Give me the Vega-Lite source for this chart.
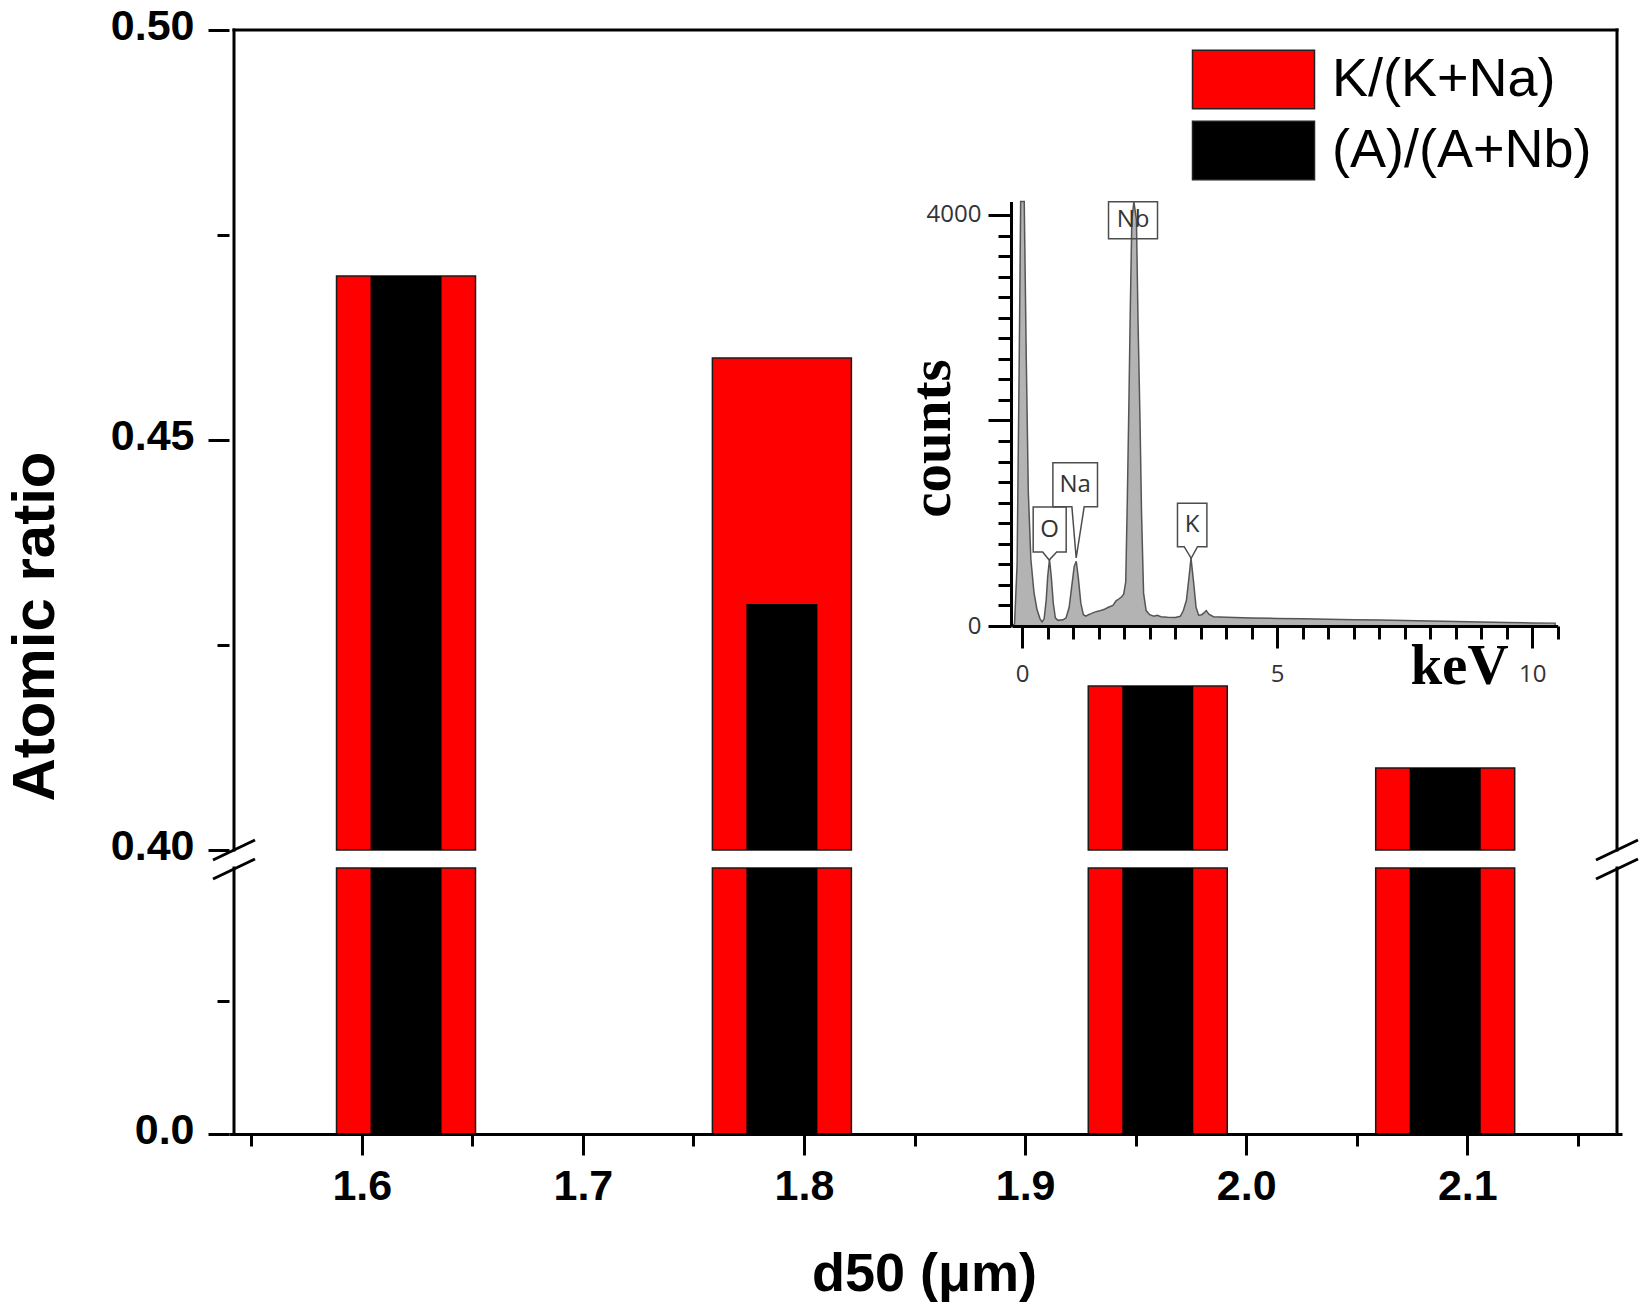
{
  "$schema": "https://vega.github.io/schema/vega-lite/v6.json",
  "description": "Atomic ratio against d50 with a broken y axis, and an inset EDS spectrum",
  "width": 1393,
  "height": 1104,
  "autosize": {"type": "none"},
  "padding": {"left": 229, "top": 30, "right": 28, "bottom": 173},
  "background": "white",
  "config": {"view": {"stroke": null}},
  "datasets": {
    "bars": [
      {"d50": 1.62, "series": "K/(K+Na)", "ratio": 0.470},
      {"d50": 1.79, "series": "K/(K+Na)", "ratio": 0.460},
      {"d50": 1.96, "series": "K/(K+Na)", "ratio": 0.420},
      {"d50": 2.09, "series": "K/(K+Na)", "ratio": 0.410},
      {"d50": 1.62, "series": "(A)/(A+Nb)", "ratio": 0.470},
      {"d50": 1.79, "series": "(A)/(A+Nb)", "ratio": 0.430},
      {"d50": 1.96, "series": "(A)/(A+Nb)", "ratio": 0.420},
      {"d50": 2.09, "series": "(A)/(A+Nb)", "ratio": 0.410}
    ],
    "spectrum": [
      {"energy": -0.2, "counts": 0}, {"energy": -0.15, "counts": 20}, {"energy": -0.1, "counts": 600},
      {"energy": -0.06, "counts": 2500}, {"energy": -0.03, "counts": 5500}, {"energy": 0.04, "counts": 5500},
      {"energy": 0.08, "counts": 2600}, {"energy": 0.12, "counts": 1300}, {"energy": 0.17, "counts": 650},
      {"energy": 0.23, "counts": 330}, {"energy": 0.29, "counts": 160}, {"energy": 0.35, "counts": 70},
      {"energy": 0.39, "counts": 40}, {"energy": 0.43, "counts": 70}, {"energy": 0.47, "counts": 250},
      {"energy": 0.5, "counts": 480}, {"energy": 0.535, "counts": 650}, {"energy": 0.57, "counts": 480},
      {"energy": 0.61, "counts": 220}, {"energy": 0.65, "counts": 80}, {"energy": 0.7, "counts": 55},
      {"energy": 0.8, "counts": 60}, {"energy": 0.86, "counts": 80}, {"energy": 0.92, "counts": 180},
      {"energy": 0.97, "counts": 380}, {"energy": 1.02, "counts": 580}, {"energy": 1.06, "counts": 630},
      {"energy": 1.1, "counts": 470}, {"energy": 1.15, "counts": 220}, {"energy": 1.2, "counts": 110},
      {"energy": 1.25, "counts": 95}, {"energy": 1.3, "counts": 110}, {"energy": 1.35, "counts": 120},
      {"energy": 1.42, "counts": 135}, {"energy": 1.5, "counts": 145}, {"energy": 1.6, "counts": 160},
      {"energy": 1.7, "counts": 185}, {"energy": 1.78, "counts": 200}, {"energy": 1.84, "counts": 245},
      {"energy": 1.9, "counts": 265}, {"energy": 1.95, "counts": 285}, {"energy": 1.99, "counts": 310},
      {"energy": 2.03, "counts": 430}, {"energy": 2.06, "counts": 1200}, {"energy": 2.09, "counts": 2100},
      {"energy": 2.12, "counts": 3100}, {"energy": 2.15, "counts": 3950}, {"energy": 2.19, "counts": 4500},
      {"energy": 2.24, "counts": 3950}, {"energy": 2.27, "counts": 3000}, {"energy": 2.31, "counts": 2000},
      {"energy": 2.34, "counts": 1100}, {"energy": 2.38, "counts": 320}, {"energy": 2.43, "counts": 150},
      {"energy": 2.5, "counts": 110}, {"energy": 2.58, "counts": 95}, {"energy": 2.65, "counts": 105},
      {"energy": 2.72, "counts": 90}, {"energy": 2.85, "counts": 85}, {"energy": 3.0, "counts": 82},
      {"energy": 3.1, "counts": 95}, {"energy": 3.16, "counts": 150}, {"energy": 3.22, "counts": 250},
      {"energy": 3.27, "counts": 470}, {"energy": 3.31, "counts": 660}, {"energy": 3.36, "counts": 430},
      {"energy": 3.41, "counts": 180}, {"energy": 3.46, "counts": 105}, {"energy": 3.52, "counts": 110},
      {"energy": 3.57, "counts": 130}, {"energy": 3.61, "counts": 150}, {"energy": 3.66, "counts": 115},
      {"energy": 3.75, "counts": 90}, {"energy": 4.0, "counts": 85}, {"energy": 4.5, "counts": 78},
      {"energy": 5.0, "counts": 74}, {"energy": 5.5, "counts": 70}, {"energy": 6.0, "counts": 66},
      {"energy": 6.5, "counts": 62}, {"energy": 7.0, "counts": 58}, {"energy": 7.5, "counts": 53},
      {"energy": 8.0, "counts": 48}, {"energy": 8.5, "counts": 43}, {"energy": 9.0, "counts": 38},
      {"energy": 9.5, "counts": 34}, {"energy": 10.0, "counts": 30}, {"energy": 10.45, "counts": 28}
    ],
    "peaks": [
      {"el": "O", "energy": 0.539, "counts": 939},
      {"el": "Na", "energy": 1.039, "counts": 1375},
      {"el": "Nb", "energy": 2.173, "counts": 3948},
      {"el": "K", "energy": 3.333, "counts": 983}
    ]
  },
  "layer": [
    {
      "layer": [
        {
          "data": {"name": "bars"},
          "encoding": {
            "x": {
              "field": "d50",
              "type": "quantitative",
              "scale": {"domain": [1.5422, 2.1677], "nice": false, "zero": false},
              "axis": {
                "values": [1.55, 1.6, 1.65, 1.7, 1.75, 1.8, 1.85, 1.9, 1.95, 2.0, 2.05, 2.1, 2.15],
                "labelExpr": "abs(datum.value * 10 - round(datum.value * 10)) > 0.25 ? '' : format(datum.value, '.1f')",
                "tickSize": {"condition": {"test": "abs(datum.value * 10 - round(datum.value * 10)) > 0.25", "value": 12}, "value": 21},
                "tickWidth": 3,
                "tickColor": "black",
                "domainWidth": 3,
                "domainColor": "black",
                "labelFont": "Liberation Sans",
                "labelFontWeight": "bold",
                "labelFontSize": 43,
                "labelColor": "black",
                "labelPadding": 10,
                "labelFlush": false,
                "labelOverlap": false,
                "grid": false,
                "zindex": 1,
                "title": "d50 (μm)",
                "titleFont": "Liberation Sans",
                "titleFontWeight": "bold",
                "titleFontSize": 54,
                "titleColor": "black",
                "titleX": 695,
                "titleY": 156,
                "titleAlign": "center",
                "titleBaseline": "alphabetic"
              }
            },
            "color": {
              "field": "series",
              "type": "nominal",
              "scale": {"domain": ["K/(K+Na)", "(A)/(A+Nb)"], "range": ["#ff0000", "#000000"]},
              "legend": {
                "orient": "none",
                "legendX": 993,
                "legendY": 18,
                "title": null,
                "padding": 0,
                "offset": 0,
                "symbolType": "M-2,-0.96H2V0.96H-2Z",
                "symbolSize": 3721,
                "symbolStrokeColor": "#222222",
                "symbolStrokeWidth": 1.5,
                "symbolOpacity": 1,
                "labelFont": "Liberation Sans",
                "labelFontSize": 54,
                "labelColor": "black",
                "labelOffset": 47,
                "labelLimit": 0,
                "rowPadding": 6
              }
            }
          },
          "layer": [
            {
              "transform": [{"filter": "datum.series === 'K/(K+Na)'"}],
              "mark": {"type": "bar", "size": 139, "stroke": "#1a1a1a", "strokeWidth": 1.5},
              "encoding": {
                "y": {
                  "field": "ratio",
                  "type": "quantitative",
                  "stack": null,
                  "scale": {"domain": [0, 0.39, 0.4, 0.5], "range": [1104, 838, 820, 0], "nice": false, "zero": false},
                  "axis": {
                    "values": [0, 0.195, 0.4, 0.425, 0.45, 0.475, 0.5],
                    "labelExpr": "datum.value == 0 ? '0.0' : (datum.value == 0.4 || datum.value == 0.45 || datum.value == 0.5 ? format(datum.value, '.2f') : '')",
                    "tickSize": {"condition": {"test": "datum.value == 0.195 || datum.value == 0.425 || datum.value == 0.475", "value": 12}, "value": 21},
                    "tickWidth": 3,
                    "tickColor": "black",
                    "domain": false,
                    "labelFont": "Liberation Sans",
                    "labelFontWeight": "bold",
                    "labelFontSize": 43,
                    "labelColor": "black",
                    "labelPadding": 14,
                    "labelBaseline": "middle",
                    "labelOffset": -4,
                    "labelFlush": false,
                    "labelOverlap": false,
                    "grid": false,
                    "zindex": 1,
                    "title": "Atomic ratio",
                    "titleFont": "Liberation Sans",
                    "titleFontWeight": "bold",
                    "titleFontSize": 60,
                    "titleColor": "black",
                    "titleAngle": 270,
                    "titleX": -176,
                    "titleY": 596,
                    "titleAlign": "center",
                    "titleBaseline": "alphabetic"
                  }
                },
                "y2": {"datum": 0.4}
              }
            },
            {
              "transform": [{"filter": "datum.series === 'K/(K+Na)'"}],
              "mark": {"type": "bar", "size": 139, "stroke": "#1a1a1a", "strokeWidth": 1.5},
              "encoding": {"y": {"datum": 0}, "y2": {"datum": 0.39}}
            },
            {
              "transform": [{"filter": "datum.series === '(A)/(A+Nb)'"}],
              "mark": {"type": "bar", "size": 71},
              "encoding": {"y": {"field": "ratio", "type": "quantitative", "stack": null}, "y2": {"datum": 0.4}}
            },
            {
              "transform": [{"filter": "datum.series === '(A)/(A+Nb)'"}],
              "mark": {"type": "bar", "size": 71},
              "encoding": {"y": {"datum": 0}, "y2": {"datum": 0.39}}
            }
          ]
        },
        {
          "data": {"values": [{}]},
          "mark": {"type": "rule", "stroke": "black", "strokeWidth": 3, "strokeCap": "square"},
          "encoding": {"x": {"datum": 1.5422}, "y": {"datum": 0.4}, "y2": {"datum": 0.5}}
        },
        {
          "data": {"values": [{}]},
          "mark": {"type": "rule", "stroke": "black", "strokeWidth": 3, "strokeCap": "square"},
          "encoding": {"x": {"datum": 1.5422}, "y": {"datum": 0}, "y2": {"datum": 0.39}}
        },
        {
          "data": {"values": [{}]},
          "mark": {"type": "rule", "stroke": "black", "strokeWidth": 3, "strokeCap": "square"},
          "encoding": {"x": {"datum": 2.1677}, "y": {"datum": 0.4}, "y2": {"datum": 0.5}}
        },
        {
          "data": {"values": [{}]},
          "mark": {"type": "rule", "stroke": "black", "strokeWidth": 3, "strokeCap": "square"},
          "encoding": {"x": {"datum": 2.1677}, "y": {"datum": 0}, "y2": {"datum": 0.39}}
        },
        {
          "data": {"values": [{}]},
          "mark": {"type": "rule", "stroke": "black", "strokeWidth": 3, "strokeCap": "square"},
          "encoding": {"x": {"datum": 1.5422}, "x2": {"datum": 2.1677}, "y": {"datum": 0.5}}
        },
        {
          "data": {"values": [{}]},
          "mark": {"type": "point", "shape": "M-21,10L21,-10M-21,29L21,9", "size": 4, "filled": false, "stroke": "black", "strokeWidth": 3, "opacity": 1},
          "encoding": {"x": {"datum": 1.5422}, "y": {"datum": 0.4}}
        },
        {
          "data": {"values": [{}]},
          "mark": {"type": "point", "shape": "M-21,10L21,-10M-21,29L21,9", "size": 4, "filled": false, "stroke": "black", "strokeWidth": 3, "opacity": 1},
          "encoding": {"x": {"datum": 2.1677}, "y": {"datum": 0.4}}
        }
      ]
    },
    {
      "layer": [
        {
          "data": {"name": "spectrum"},
          "mark": {"type": "area", "fill": "#b3b3b3", "stroke": "#555555", "strokeWidth": 1.5, "opacity": 1},
          "encoding": {
            "x": {
              "field": "energy",
              "type": "quantitative",
              "scale": {"domain": [-0.2, 10.5], "range": [783, 1328.7], "nice": false, "zero": false},
              "axis": {
                "orient": "bottom",
                "offset": -508,
                "values": [0, 0.5, 1, 1.5, 2, 2.5, 3, 3.5, 4, 4.5, 5, 5.5, 6, 6.5, 7, 7.5, 8, 8.5, 9, 9.5, 10, 10.5],
                "labelExpr": "datum.value == 0 || datum.value == 5 || datum.value == 10 ? format(datum.value, 'd') : ''",
                "tickSize": {"condition": {"test": "datum.value == 0 || datum.value == 5 || datum.value == 10", "value": 22}, "value": 13},
                "tickWidth": 3,
                "tickColor": "black",
                "domainWidth": 3,
                "domainColor": "black",
                "labelFont": "Open Sans",
                "labelFontSize": 24,
                "labelColor": "#333333",
                "labelPadding": 14,
                "labelFlush": false,
                "labelOverlap": false,
                "grid": false,
                "zindex": 1,
                "title": "keV",
                "titleFont": "Liberation Serif",
                "titleFontWeight": "bold",
                "titleFontSize": 57,
                "titleColor": "black",
                "titleX": 1230,
                "titleY": 57,
                "titleAlign": "center",
                "titleBaseline": "alphabetic"
              }
            },
            "y": {
              "field": "counts",
              "type": "quantitative",
              "scale": {"domain": [0, 4130], "range": [596, 171.6], "clamp": true, "nice": false, "zero": true},
              "axis": {
                "orient": "left",
                "offset": -782,
                "values": [0, 200, 400, 600, 800, 1000, 1200, 1400, 1600, 1800, 2000, 2200, 2400, 2600, 2800, 3000, 3200, 3400, 3600, 3800, 4000],
                "labelExpr": "datum.value == 0 || datum.value == 4000 ? format(datum.value, 'd') : ''",
                "tickSize": {"condition": {"test": "datum.value == 0 || datum.value == 2000 || datum.value == 4000", "value": 23}, "value": 13},
                "tickWidth": 3,
                "tickColor": "black",
                "domainWidth": 3,
                "domainColor": "black",
                "labelFont": "Open Sans",
                "labelFontSize": 24,
                "labelColor": "#333333",
                "labelPadding": 7,
                "labelBaseline": "middle",
                "labelFlush": false,
                "labelOverlap": false,
                "grid": false,
                "zindex": 1,
                "title": "counts",
                "titleFont": "Liberation Serif",
                "titleFontWeight": "bold",
                "titleFontSize": 57,
                "titleColor": "black",
                "titleAngle": 270,
                "titleX": -62,
                "titleY": 408,
                "titleAlign": "center",
                "titleBaseline": "alphabetic"
              }
            }
          }
        },
        {
          "data": {"name": "peaks"},
          "mark": {"type": "point", "filled": false, "stroke": "#4d4d4d", "strokeWidth": 1.5, "size": 4, "opacity": 1},
          "encoding": {
            "x": {"field": "energy", "type": "quantitative"},
            "y": {"field": "counts", "type": "quantitative"},
            "shape": {
              "field": "el",
              "type": "nominal",
              "scale": {
                "domain": ["O", "Na", "Nb", "K"],
                "range": [
                  "M-16.5,-22.5H16.5V22.5H7L-0.5,30.5L-7,22.5H-16.5Z",
                  "M-22.3,-22H22.3V22H9L1,73.3L-3.3,22H-22.3Z",
                  "M-24.5,-18.5H24.5V18.5H-24.5Z",
                  "M-14.7,-21.7H14.7V21.7H5.3L-1,33.3L-8,21.7H-14.7Z"
                ]
              },
              "legend": null
            }
          }
        },
        {
          "data": {"name": "peaks"},
          "mark": {"type": "text", "font": "Open Sans", "fontSize": 24, "color": "#333333", "align": "center", "baseline": "middle"},
          "encoding": {
            "x": {"field": "energy", "type": "quantitative"},
            "y": {"field": "counts", "type": "quantitative"},
            "text": {"field": "el"}
          }
        }
      ]
    }
  ],
  "resolve": {"scale": {"x": "independent", "y": "independent"}}
}
